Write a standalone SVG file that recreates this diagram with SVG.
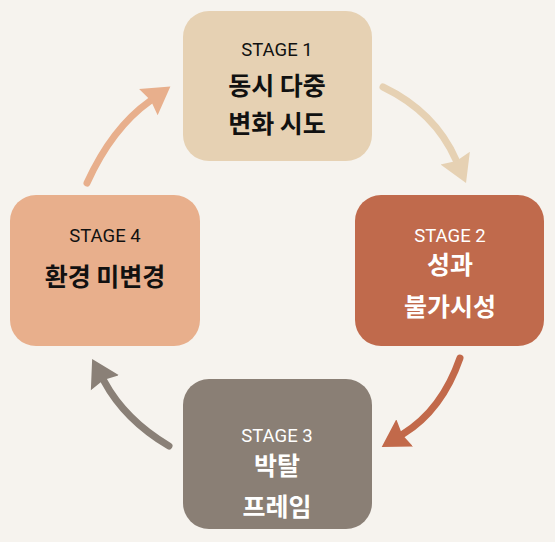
<svg xmlns="http://www.w3.org/2000/svg" width="555" height="542" viewBox="0 0 555 542">
<style>
.stage{font-family:Roboto,"Liberation Sans",sans-serif;font-size:18.5px;text-anchor:middle}
.ko{font-family:"Noto Sans CJK KR","Noto Sans",sans-serif;font-size:25px;font-weight:700;text-anchor:middle}
.dark{fill:#111}
.light{fill:#fff}
.arrow{fill:none;stroke-width:7;stroke-linecap:round}
</style>
<defs>
<marker id="h1" markerUnits="userSpaceOnUse" viewBox="0 -17 30 34" markerWidth="30" markerHeight="34" refX="2" refY="0" orient="auto"><path d="M0,-16 L27,0 L0,16 L3,0 Z" fill="#E6D1B3"/></marker>
<marker id="h2" markerUnits="userSpaceOnUse" viewBox="0 -17 30 34" markerWidth="30" markerHeight="34" refX="2" refY="0" orient="auto"><path d="M0,-16 L27,0 L0,16 L3,0 Z" fill="#C2694A"/></marker>
<marker id="h3" markerUnits="userSpaceOnUse" viewBox="0 -17 30 34" markerWidth="30" markerHeight="34" refX="2" refY="0" orient="auto"><path d="M0,-16 L27,0 L0,16 L3,0 Z" fill="#8A8077"/></marker>
<marker id="h4" markerUnits="userSpaceOnUse" viewBox="0 -17 30 34" markerWidth="30" markerHeight="34" refX="2" refY="0" orient="auto"><path d="M0,-16 L27,0 L0,16 L3,0 Z" fill="#E8AF8C"/></marker>
</defs>
<rect width="555" height="542" fill="#F6F3EE"/>
<g id="connectors">
<path class="arrow" stroke="#E6D1B3" d="M383,87 Q435,112 456,160" marker-end="url(#h1)"/>
<path class="arrow" stroke="#C2694A" d="M460,358 Q442,410 403,434" marker-end="url(#h2)"/>
<path class="arrow" stroke="#8A8077" d="M169,446 Q125,420 104,381" marker-end="url(#h3)"/>
<path class="arrow" stroke="#E8AF8C" d="M87,183 Q112,128 150,101" marker-end="url(#h4)"/>
</g>
<g id="stage1">
<rect x="183" y="11" width="189" height="150" rx="26" fill="#E6D1B3"/>
<text class="stage dark" x="277" y="56">STAGE 1</text>
<text class="ko dark" x="277" y="95">동시 다중</text>
<text class="ko dark" x="277" y="133">변화 시도</text>
</g>
<g id="stage2">
<rect x="355" y="195" width="189" height="151" rx="26" fill="#C06A4C"/>
<text class="stage light" x="450" y="242">STAGE 2</text>
<text class="ko light" x="450" y="274">성과</text>
<text class="ko light" x="450" y="316">불가시성</text>
</g>
<g id="stage3">
<rect x="183" y="379" width="189" height="150" rx="26" fill="#8A7F75"/>
<text class="stage light" x="277" y="442">STAGE 3</text>
<text class="ko light" x="277" y="475">박탈</text>
<text class="ko light" x="277" y="516">프레임</text>
</g>
<g id="stage4">
<rect x="10" y="195" width="190" height="151" rx="26" fill="#E8AF8C"/>
<text class="stage dark" x="105" y="242">STAGE 4</text>
<text class="ko dark" x="105" y="286">환경 미변경</text>
</g>
</svg>
